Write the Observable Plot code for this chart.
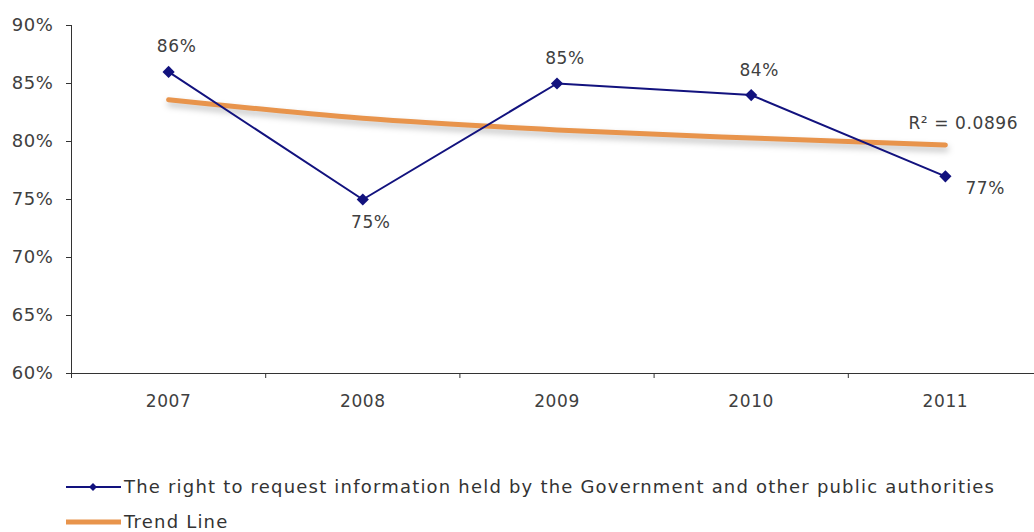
<!DOCTYPE html>
<html>
<head>
<meta charset="utf-8">
<script src="https://cdn.jsdelivr.net/npm/d3@7"></script>
<script src="https://cdn.jsdelivr.net/npm/@observablehq/plot@0.6"></script>
<style>
  html, body { margin: 0; padding: 0; background: #fff; }
  body { width: 1034px; height: 532px; overflow: hidden; font-family: "DejaVu Sans", sans-serif; color: #404040; }
  #chart svg { display: block; }
  #chart svg text { letter-spacing: 0.6px; }
  .legend { position: absolute; left: 66px; top: 469px; font-size: 18px; letter-spacing: 1.2px; color: #333; }
  .legend .row { display: flex; align-items: center; height: 35px; }
  .legend svg { margin-right: 3px; }
</style>
</head>
<body>
<div id="chart"></div>
<div class="legend" id="legend"></div>
<script>
const years = [2007, 2008, 2009, 2010, 2011];
const values = [86, 75, 85, 84, 77];
const trendValues = [83.6, 82.0, 81.0, 80.3, 79.7];
const yTicks = [60, 65, 70, 75, 80, 85, 90];
const bandEdges = [2006.5, 2007.5, 2008.5, 2009.5, 2010.5, 2011.5];
const seriesName = "The right to request information held by the Government and other public authorities";
const trendName = "Trend Line";
const rSquaredText = "R² = 0.0896";

const navy = "#12127e";
const orange = "#e8944c";
const axisColor = "#333";
const textColor = "#404040";

const series = years.map((year, i) => ({year, value: values[i]}));
const trend = years.map((year, i) => ({year, value: trendValues[i]}));

const isLast = (d, i) => i === series.length - 1;
const isLocalMin = (d, i) => i > 0 && i < series.length - 1 && d.value < series[i - 1].value && d.value < series[i + 1].value;
const above = series.filter((d, i) => !isLast(d, i) && !isLocalMin(d, i));
const below = series.filter((d, i) => isLocalMin(d, i));
const right = series.filter((d, i) => isLast(d, i));

const chart = Plot.plot({
  width: 1034,
  height: 430,
  marginTop: 25,
  marginBottom: 57,
  marginLeft: 71,
  marginRight: 0,
  style: {fontFamily: "DejaVu Sans, sans-serif", fontSize: "17px", color: textColor, background: "#fff"},
  x: {domain: [2006.5, 2011.5], range: [71, 1042]},
  y: {domain: [60, 90]},
  marks: [
    Plot.ruleY([60], {stroke: axisColor, strokeWidth: 1}),
    Plot.ruleX([2006.5], {y1: 60, y2: 90, stroke: axisColor, strokeWidth: 1}),
    Plot.axisY({ticks: yTicks, tickFormat: d => d + "%", tickSize: 5, tickPadding: 13, label: null, stroke: axisColor, fill: textColor, fontSize: 18}),
    Plot.axisX({ticks: bandEdges, tickFormat: () => "", tickSize: 5, label: null, stroke: axisColor}),
    Plot.axisX({ticks: years, tickFormat: d => String(d), tickSize: 0, tickPadding: 21, label: null, fill: textColor, fontSize: 17}),
    Plot.line(trend, {x: "year", y: "value", stroke: orange, strokeWidth: 5, curve: "monotone-x"}),
    Plot.line(series, {x: "year", y: "value", stroke: navy, strokeWidth: 2}),
    Plot.dot(series, {x: "year", y: "value", symbol: "diamond2", r: 5.5, fill: navy, stroke: "none"}),
    Plot.text(above, {x: "year", y: "value", text: d => d.value + "%", dy: -25, dx: 8, fill: textColor, fontSize: 17}),
    Plot.text(below, {x: "year", y: "value", text: d => d.value + "%", dy: 23, dx: 8, fill: textColor, fontSize: 17}),
    Plot.text(right, {x: "year", y: "value", text: d => d.value + "%", dy: 12, dx: 20, textAnchor: "start", fill: textColor, fontSize: 17}),
    Plot.text(trend.slice(-1), {x: "year", y: "value", text: () => rSquaredText, dy: -21, dx: -37, textAnchor: "start", fill: textColor, fontSize: 17})
  ]
});

// soft shadow under the trend line
const lineGroups = chart.querySelectorAll('g[aria-label="line"]');
if (lineGroups.length) lineGroups[0].style.filter = "drop-shadow(1px 4px 3px rgba(0,0,0,0.25))";

document.getElementById("chart").appendChild(chart);

// legend below the chart
const legend = document.getElementById("legend");
function addRow(label, drawSwatch) {
  const row = document.createElement("div");
  row.className = "row";
  const sw = d3.create("svg").attr("width", 55).attr("height", 16);
  drawSwatch(sw);
  row.appendChild(sw.node());
  const span = document.createElement("span");
  span.textContent = label;
  row.appendChild(span);
  legend.appendChild(row);
}
addRow(seriesName, sw => {
  sw.append("line").attr("x1", 0).attr("x2", 55).attr("y1", 8).attr("y2", 8).attr("stroke", navy).attr("stroke-width", 2);
  sw.append("path").attr("d", d3.symbol(d3.symbolDiamond2, 40)()).attr("transform", "translate(27,8)").attr("fill", navy);
});
addRow(trendName, sw => {
  sw.append("line").attr("x1", 0).attr("x2", 55).attr("y1", 8).attr("y2", 8).attr("stroke", orange).attr("stroke-width", 5);
});
</script>
</body>
</html>
